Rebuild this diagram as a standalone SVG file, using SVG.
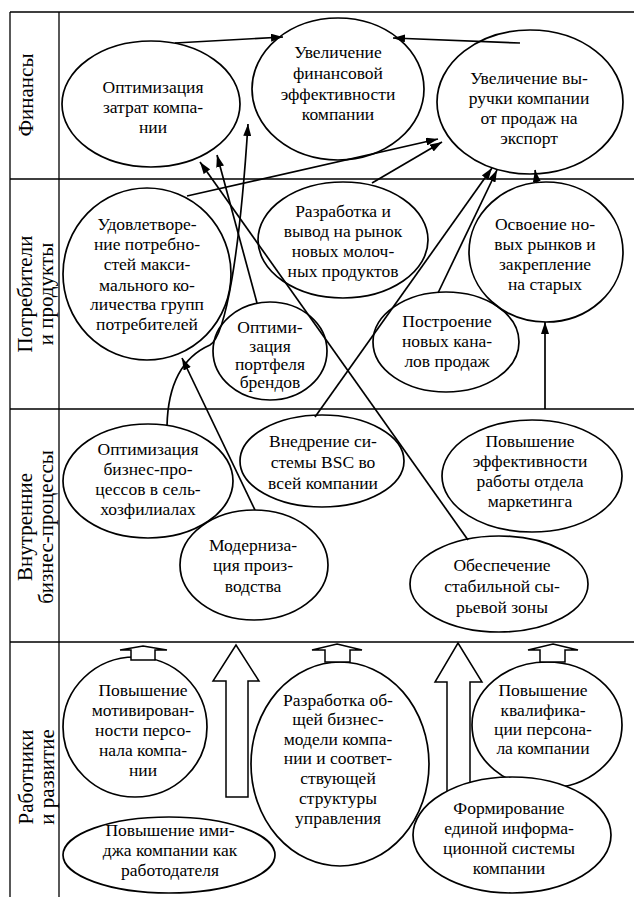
<svg xmlns="http://www.w3.org/2000/svg" width="634" height="897" viewBox="0 0 634 897">
<defs>
<marker id="ah" markerUnits="userSpaceOnUse" markerWidth="12" markerHeight="8" refX="12" refY="4" orient="auto">
<path d="M0,0 L12,4 L0,8 z" fill="#000"/>
</marker>
<style>
.grid{stroke:#000;stroke-width:1.3;fill:none}
.el{fill:none;stroke:#000;stroke-width:1.7}
text{fill:#000;text-anchor:middle}
.c{fill:none;stroke:#000;stroke-width:1.7;marker-end:url(#ah)}
.ba{fill:#fff;stroke:#000;stroke-width:1.5;stroke-linejoin:miter}
</style>
</defs>
<rect width="634" height="897" fill="#fff"/>
<g id="table" class="grid">
<path d="M10,12 H634 M10,12 V897 M59,12 V897 M10,179 H634 M10,409 H634 M10,642 H634"/>
</g>
<g id="labels" font-family="Liberation Serif, serif" font-size="21">
<text transform="translate(33,95) rotate(-90)">Финансы</text>
<text transform="translate(32,294) rotate(-90)">Потребители</text>
<text transform="translate(53,294) rotate(-90)">и продукты</text>
<text transform="translate(32,527) rotate(-90)">Внутренние</text>
<text transform="translate(53,527) rotate(-90)">бизнес-процессы</text>
<text transform="translate(33,777) rotate(-90)">Работники</text>
<text transform="translate(54,777) rotate(-90)">и развитие</text>
</g>
<g id="nodes" font-family="Liberation Serif, serif" font-size="17.5">
<g id="n1"><ellipse class="el" cx="151" cy="104" rx="89" ry="63"/>
<text x="153" y="93">Оптимизация</text><text x="153" y="113">затрат компа-</text><text x="153" y="133">нии</text></g>
<g id="n2"><ellipse class="el" cx="338" cy="89" rx="86" ry="71"/>
<text x="338" y="58">Увеличение</text><text x="338" y="79">финансовой</text><text x="338" y="100">эффективности</text><text x="338" y="120">компании</text></g>
<g id="n3"><ellipse class="el" cx="530" cy="102" rx="93" ry="72"/>
<text x="529" y="84">Увеличение вы-</text><text x="529" y="104">ручки компании</text><text x="529" y="124">от продаж на</text><text x="529" y="144">экспорт</text></g>
<g id="n4"><ellipse class="el" cx="147" cy="274" rx="84" ry="86"/>
<text x="147" y="230">Удовлетворе-</text><text x="147" y="250">ние потребно-</text><text x="147" y="270">стей макси-</text><text x="147" y="291">мального ко-</text><text x="147" y="310">личества групп</text><text x="147" y="330">потребителей</text></g>
<g id="n5"><ellipse class="el" cx="343" cy="240" rx="85" ry="58"/>
<text x="343" y="217">Разработка и</text><text x="343" y="237">вывод на рынок</text><text x="343" y="257">новых молоч-</text><text x="343" y="277">ных продуктов</text></g>
<g id="n6"><ellipse class="el" cx="270" cy="351" rx="57" ry="49"/>
<text x="270" y="333">Оптими-</text><text x="270" y="352">зация</text><text x="270" y="370">портфеля</text><text x="270" y="388">брендов</text></g>
<g id="n7"><ellipse class="el" cx="446" cy="342" rx="73" ry="50"/>
<text x="447" y="327">Построение</text><text x="447" y="347">новых кана-</text><text x="447" y="367">лов продаж</text></g>
<g id="n8"><ellipse class="el" cx="546" cy="252" rx="77" ry="70"/>
<text x="545" y="230">Освоение но-</text><text x="545" y="250">вых рынков и</text><text x="545" y="270">закрепление</text><text x="545" y="290">на старых</text></g>
<g id="n9"><ellipse class="el" cx="148" cy="481" rx="85" ry="57"/>
<text x="148" y="455">Оптимизация</text><text x="148" y="475">бизнес-про-</text><text x="148" y="495">цессов в сель-</text><text x="148" y="515">хозфилиалах</text></g>
<g id="n10"><ellipse class="el" cx="254" cy="565" rx="74" ry="55"/>
<text x="253" y="551">Модерниза-</text><text x="253" y="571">ция произ-</text><text x="253" y="592">водства</text></g>
<g id="n11"><ellipse class="el" cx="322" cy="461" rx="82" ry="46"/>
<text x="323" y="447">Внедрение си-</text><text x="323" y="468">стемы BSC во</text><text x="323" y="489">всей компании</text></g>
<g id="n12"><ellipse class="el" cx="532" cy="476" rx="90" ry="56"/>
<text x="530" y="447">Повышение</text><text x="530" y="467">эффективности</text><text x="530" y="487">работы отдела</text><text x="530" y="507">маркетинга</text></g>
<g id="n13"><ellipse class="el" cx="499" cy="584" rx="89" ry="48"/>
<text x="502" y="571">Обеспечение</text><text x="502" y="592">стабильной сы-</text><text x="502" y="613">рьевой зоны</text></g>
<g id="n14"><ellipse class="el" cx="135" cy="727" rx="72" ry="70"/>
<text x="143" y="696">Повышение</text><text x="143" y="716">мотивирован-</text><text x="143" y="736">ности персо-</text><text x="143" y="756">нала компа-</text><text x="143" y="776">нии</text></g>
<g id="n15"><ellipse class="el" cx="169" cy="855" rx="106" ry="38"/>
<text x="170" y="836">Повышение ими-</text><text x="170" y="856">джа компании как</text><text x="170" y="876">работодателя</text></g>
<g id="n16"><ellipse class="el" cx="340" cy="764" rx="89" ry="102"/>
<text x="338" y="706">Разработка об-</text><text x="338" y="725">щей бизнес-</text><text x="338" y="745">модели компа-</text><text x="338" y="764">нии и соответ-</text><text x="338" y="784">ствующей</text><text x="338" y="804">структуры</text><text x="338" y="824">управления</text></g>
<g id="n17"><ellipse class="el" cx="547" cy="725" rx="75" ry="63"/>
<text x="543" y="696">Повышение</text><text x="543" y="716">квалифика-</text><text x="543" y="735">ции персона-</text><text x="543" y="754">ла компании</text></g>
</g>
<g id="connectors">
<path class="c" d="M175,43 L283,37"/>
<path class="c" d="M520,43 L393,38"/>
<path class="c" d="M187,196 L438,139"/>
<path class="c" d="M372,183 L442,142"/>
<path class="c" d="M257,303 L217,155"/>
<path class="c" d="M468,540 L200,162"/>
<path class="c" d="M167,426 C168,380 185,356 210,345 C226,336 240,250 248,124"/>
<path class="c" d="M255,510 L182,358"/>
<path class="c" d="M315,417 L492,168"/>
<path class="c" d="M438,293 L497,170"/>
<path class="c" d="M537,183 L535,170"/>
<path class="c" d="M545,409 L545,322"/>
<polygon class="ba" points="236,645 259,681 248,681 248,797 226,797 226,681 213,681"/>
<polygon class="ba" points="458,643 482,682 470,682 470,792 447,792 447,682 435,682"/>
<polygon class="ba" points="143,646 167,650 155,650 155,660 131,660 131,650 120,650"/>
<polygon class="ba" points="337,644 362,650 350,650 350,662 325,662 325,650 312,650"/>
<polygon class="ba" points="553,644 578,650 565,650 565,662 540,662 540,650 528,650"/>
</g>
<g id="n18" font-family="Liberation Serif, serif" font-size="17.5"><ellipse class="el" cx="512" cy="835" rx="99" ry="58" style="fill:#fff"/>
<text x="509" y="814">Формирование</text><text x="509" y="834">единой информа-</text><text x="509" y="854">ционной системы</text><text x="509" y="874">компании</text></g>
</svg>
